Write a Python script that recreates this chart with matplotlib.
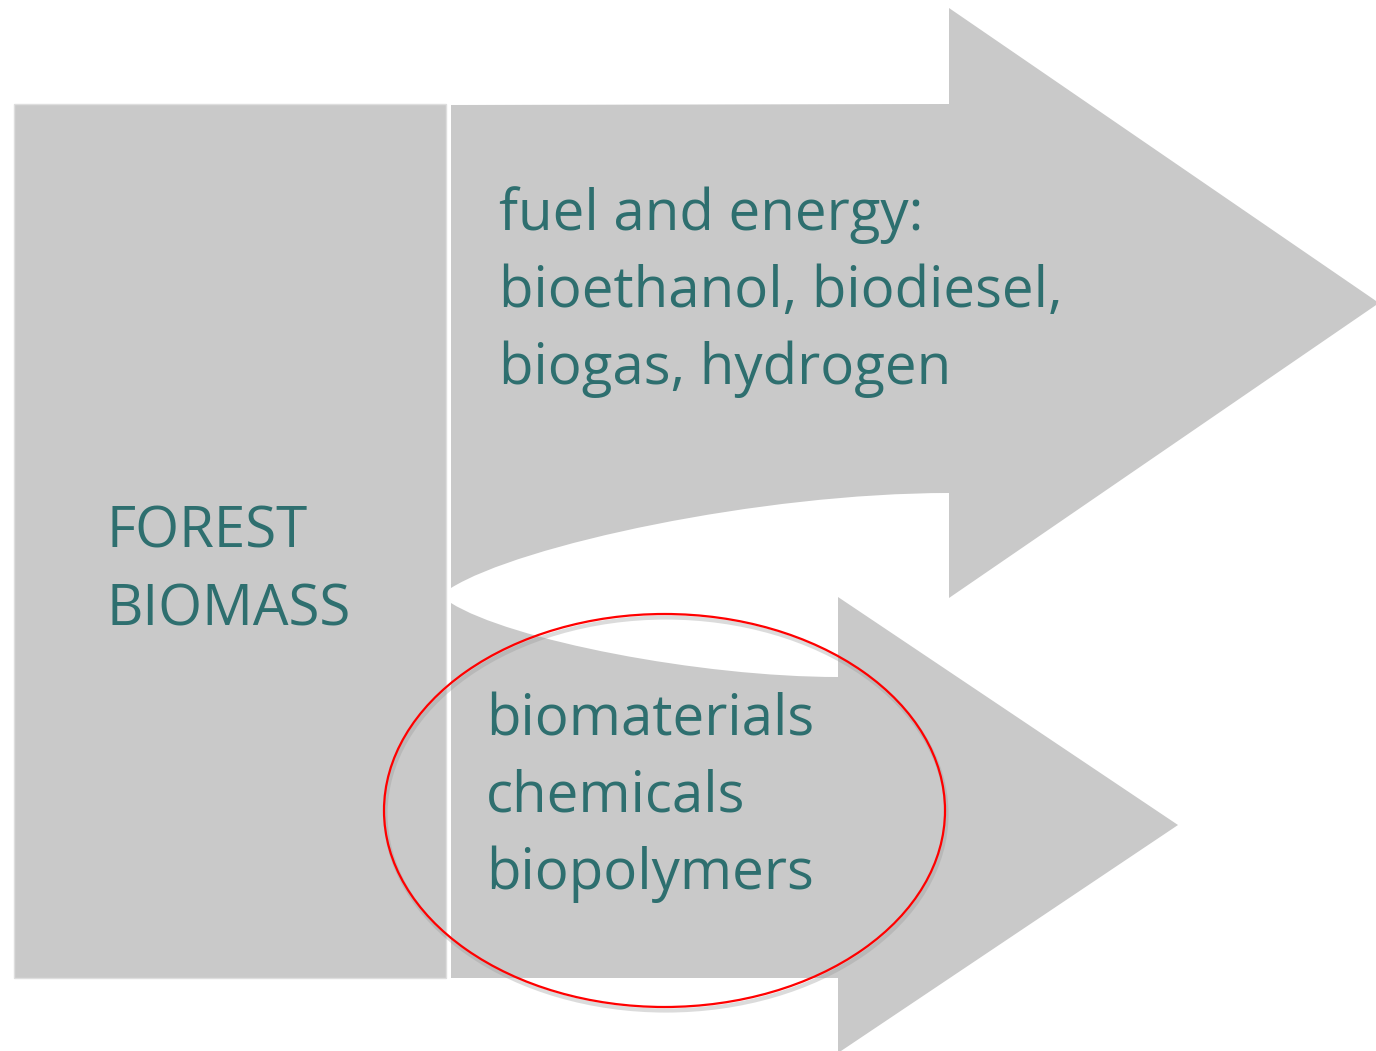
import matplotlib.pyplot as plt
from matplotlib.path import Path
from matplotlib.patches import PathPatch, Rectangle, Ellipse

# Diagram text
left_label = ["FOREST", "BIOMASS"]
top_label = ["fuel and energy:", "bioethanol, biodiesel,", "biogas, hydrogen"]
bottom_label = ["biomaterials", "chemicals", "biopolymers"]

gray = "#c9c9c9"
teal = "#2e6f6f"
font = "Open Sans"
fsize = 40.6
line_gap = 77

fig = plt.figure(figsize=(13.76, 10.51), dpi=100)
ax = fig.add_axes([0, 0, 1, 1])
ax.set_xlim(0, 1376)
ax.set_ylim(1051, 0)
ax.axis("off")

# Left block
ax.add_patch(Rectangle((14, 104), 432, 874, facecolor=gray, edgecolor="#dedede", lw=1))

# Upper curved arrow (shaft bottom edge is a curve)
C4 = Path.CURVE4
top_verts = [(451, 105), (949, 104), (949, 8), (1379, 303), (949, 598), (949, 493),
             (760, 493), (520, 545), (451, 588), (451, 105)]
top_codes = [Path.MOVETO, Path.LINETO, Path.LINETO, Path.LINETO, Path.LINETO, Path.LINETO,
             C4, C4, C4, Path.CLOSEPOLY]
ax.add_patch(PathPatch(Path(top_verts, top_codes), facecolor=gray, edgecolor="none"))

# Lower arrow, its top edge follows the gap curve
low_verts = [(451, 603), (510, 640), (700, 677), (838, 677), (838, 597), (1178, 825),
             (838, 1053), (838, 978), (451, 978), (451, 603)]
low_codes = [Path.MOVETO, C4, C4, C4, Path.LINETO, Path.LINETO, Path.LINETO,
             Path.LINETO, Path.LINETO, Path.CLOSEPOLY]
ax.add_patch(PathPatch(Path(low_verts, low_codes), facecolor=gray, edgecolor="none"))

# Labels
for i, s in enumerate(left_label):
    ax.text(106, 548 + i * line_gap, s, color=teal, fontsize=fsize, family=font,
            ha="left", va="baseline")
for i, s in enumerate(top_label):
    ax.text(499, 230 + i * line_gap, s, color=teal, fontsize=fsize, family=font,
            ha="left", va="baseline")
for i, s in enumerate(bottom_label):
    ax.text(486, 735 + i * line_gap, s, color=teal, fontsize=fsize, family=font,
            ha="left", va="baseline")

# Red highlight ellipse with a soft shadow
ax.add_patch(Ellipse((666, 814), 561, 393, fill=False, edgecolor="#999999", lw=3, alpha=0.35))
ax.add_patch(Ellipse((664.5, 810.5), 561, 393, fill=False, edgecolor="red", lw=1.6))

fig.savefig("out.png", dpi=100)
